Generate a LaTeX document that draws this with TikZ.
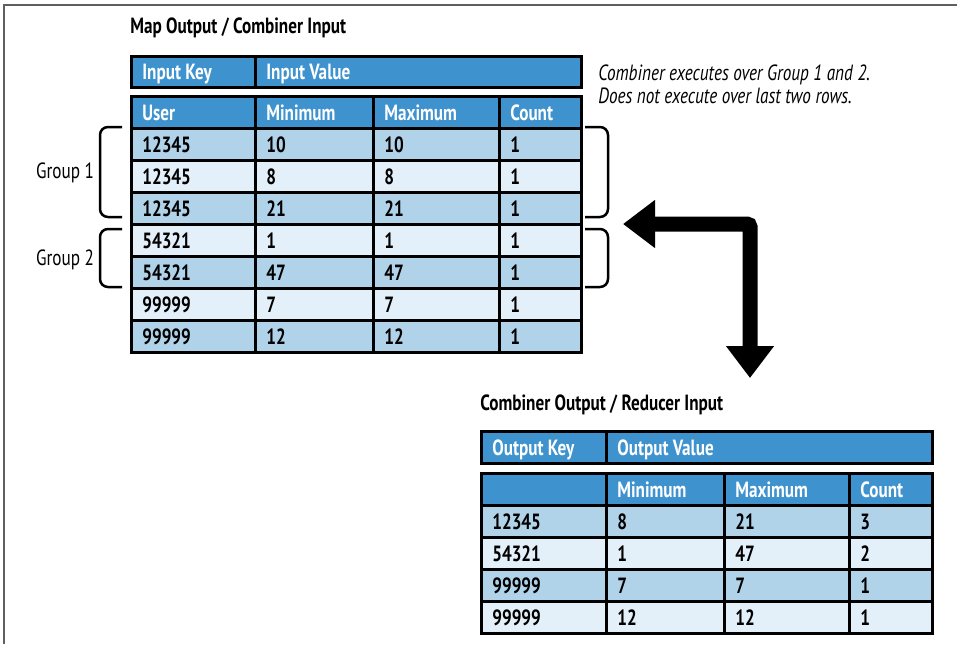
\documentclass[tikz,border=0pt]{standalone}
\usepackage{fontspec}
\setmainfont{PT Sans}[FakeStretch=0.78]
\usetikzlibrary{arrows.meta}
\definecolor{hdrblue}{RGB}{62,146,206}
\definecolor{rowdark}{RGB}{177,211,234}
\definecolor{rowlight}{RGB}{227,240,249}
\definecolor{framegray}{RGB}{95,95,95}

\begin{document}
\begin{tikzpicture}[x=0.5pt,y=-0.5pt,
  font=\fontsize{11}{13}\selectfont,
  cell/.style={draw=black,line width=1.3pt,anchor=north west,minimum height=16pt,
    inner xsep=5.5pt,inner ysep=0pt,text height=7.7pt,text depth=0pt,align=flush left,
    font=\fontsize{11}{13}\selectfont\bfseries},
  hcell/.style={cell,fill=hdrblue,text=white},
  dark/.style={cell,fill=rowdark},
  light/.style={cell,fill=rowlight},
  title/.style={anchor=base west,inner sep=0pt,font=\fontsize{11}{13}\selectfont\bfseries},
  note/.style={anchor=base west,inner sep=0pt,font=\fontsize{11}{13}\selectfont\itshape},
  group/.style={anchor=base,inner sep=0pt},
  brk/.style={line width=1.25pt,rounded corners=4pt},
  bigarrow/.style={line width=7.5pt,rounded corners=1.5pt,
    {Triangle[length=16pt,width=23pt]}-{Triangle[length=16pt,width=23pt]}}]

  \useasboundingbox (0,0) rectangle (957,644);
  \draw[framegray,line width=1pt] (4,644) -- (4,5) -- (957,5);

  \node[title] (map-title) at (130,33) {Map Output / Combiner Input};
  \node[hcell,minimum height=15.5pt,text width=51pt] (in-key) at (130,55) {Input Key};
  \node[hcell,minimum height=15.5pt,text width=152pt] (in-value) at (254,55) {Input Value};

  \node[hcell,text width=51pt] (m-0-1) at (130,95) {User};
  \node[hcell,text width=48pt] (m-0-2) at (254,95) {Minimum};
  \node[hcell,text width=52pt] (m-0-3) at (372,95) {Maximum};
  \node[hcell,text width=30pt] (m-0-4) at (498,95) {Count};

  \foreach \usr/\mn/\mx/\cnt [count=\i] in {12345/10/10/1,12345/8/8/1,12345/21/21/1,
      54321/1/1/1,54321/47/47/1,99999/7/7/1,99999/12/12/1}{
    \pgfmathtruncatemacro\y{127+32*(\i-1)}
    \ifodd\i\def\rs{dark}\else\def\rs{light}\fi
    \node[\rs,text width=51pt] (m-\i-1) at (130,\y) {\usr};
    \node[\rs,text width=48pt] (m-\i-2) at (254,\y) {\mn};
    \node[\rs,text width=52pt] (m-\i-3) at (372,\y) {\mx};
    \node[\rs,text width=30pt] (m-\i-4) at (498,\y) {\cnt};
  }

  \node[group] (group1) at (65,178) {Group 1};
  \node[group] (group2) at (65,265) {Group 2};
  \draw[brk] (122,127) -- (100,127) -- (100,217) -- (122,217);
  \draw[brk] (122,229) -- (100,229) -- (100,287) -- (122,287);
  \draw[brk] (585,127) -- (608,127) -- (608,217) -- (585,217);
  \draw[brk] (585,229) -- (608,229) -- (608,287) -- (585,287);

  \node[note] (note1) at (598,80) {Combiner executes over Group 1 and 2.};
  \node[note] (note2) at (598,103) {Does not execute over last two rows.};

  \coordinate (arr-left) at (623,224);
  \coordinate (arr-down) at (750,378);
  \draw[bigarrow] (arr-left) -| (arr-down);

  \node[title] (red-title) at (480,410) {Combiner Output / Reducer Input};
  \node[hcell,text width=51.5pt] (out-key) at (480,430) {Output Key};
  \node[hcell,text width=152pt] (out-value) at (605,430) {Output Value};

  \node[hcell,text width=51.5pt] (r-0-1) at (480,472) {};
  \node[hcell,text width=48pt] (r-0-2) at (605,472) {Minimum};
  \node[hcell,text width=51.5pt] (r-0-3) at (723,472) {Maximum};
  \node[hcell,text width=30.5pt] (r-0-4) at (848,472) {Count};

  \foreach \usr/\mn/\mx/\cnt [count=\i] in {12345/8/21/3,54321/1/47/2,99999/7/7/1,99999/12/12/1}{
    \pgfmathtruncatemacro\y{504+32*(\i-1)}
    \ifodd\i\def\rs{dark}\else\def\rs{light}\fi
    \node[\rs,text width=51.5pt] (r-\i-1) at (480,\y) {\usr};
    \node[\rs,text width=48pt] (r-\i-2) at (605,\y) {\mn};
    \node[\rs,text width=51.5pt] (r-\i-3) at (723,\y) {\mx};
    \node[\rs,text width=30.5pt] (r-\i-4) at (848,\y) {\cnt};
  }
\end{tikzpicture}
\end{document}
